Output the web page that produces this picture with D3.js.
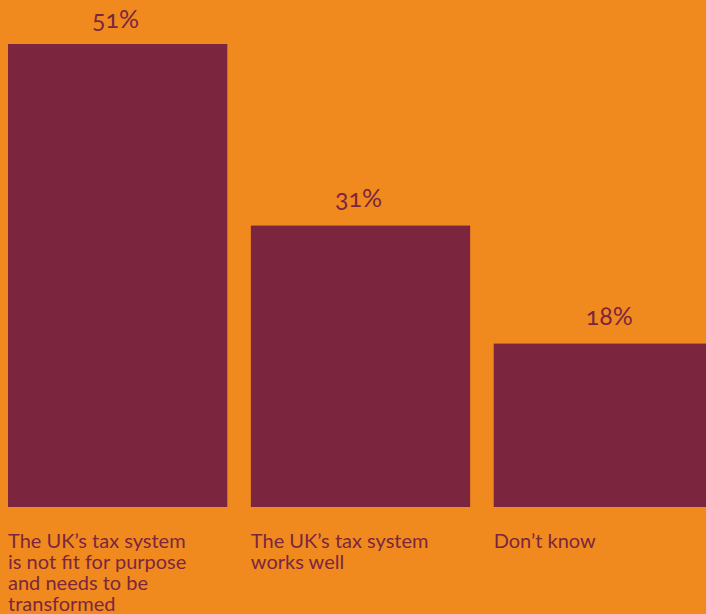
<!DOCTYPE html>
<html>
<head>
<meta charset="utf-8">
<script src="https://cdn.jsdelivr.net/npm/d3@7"></script>
<style>
  html, body { margin: 0; padding: 0; background: #F18A1E; }
  svg { display: block; }
  .value { font-family: Lato, "Open Sans", sans-serif; font-variant-numeric: oldstyle-nums; }
  .cat { font-family: Lato, "Open Sans", sans-serif; }
</style>
</head>
<body>
<script>
// Survey answers and their shares (%)
const categories = [
  "The UK’s tax system is not fit for purpose and needs to be transformed",
  "The UK’s tax system works well",
  "Don’t know"
];
const categoryLines = [
  ["The UK’s tax system", "is not fit for purpose", "and needs to be", "transformed"],
  ["The UK’s tax system", "works well"],
  ["Don’t know"]
];
const shares = [51, 31, 18];

const W = 706, H = 614;
const orange = "#F18A1E", maroon = "#7B263E";

const svg = d3.select("body").append("svg")
  .attr("width", W).attr("height", H);

svg.append("rect").attr("width", W).attr("height", H).attr("fill", orange);

const x = d3.scaleBand()
  .domain(categories)
  .range([8, 713])
  .paddingInner(0.097)
  .paddingOuter(0);

const y = d3.scaleLinear()
  .domain([0, d3.max(shares)])
  .range([507, 44]);

const data = categories.map((c, i) => ({ cat: c, lines: categoryLines[i], v: shares[i] }));

svg.selectAll("rect.bar")
  .data(data)
  .join("rect")
  .attr("class", "bar")
  .attr("x", d => x(d.cat))
  .attr("y", d => y(d.v))
  .attr("width", x.bandwidth())
  .attr("height", d => y(0) - y(d.v))
  .attr("fill", maroon);

svg.selectAll("text.value")
  .data(data)
  .join("text")
  .attr("class", "value")
  .attr("x", d => x(d.cat) + x.bandwidth() / 2 + (d.v < 20 ? 6 : -2))
  .attr("y", d => y(d.v) - (d.v > 50 ? 16 : 19))
  .attr("text-anchor", "middle")
  .attr("font-size", 25)
  .attr("fill", maroon)
  .text(d => d.v + "%");

const cat = svg.selectAll("text.cat")
  .data(data)
  .join("text")
  .attr("class", "cat")
  .attr("x", d => x(d.cat))
  .attr("y", 547.5)
  .attr("font-size", 20)
  .attr("fill", maroon);

cat.selectAll("tspan")
  .data(d => d.lines.map(l => ({ l, x0: x(d.cat) })))
  .join("tspan")
  .attr("x", t => t.x0)
  .attr("dy", (t, i) => i === 0 ? 0 : 21.3)
  .text(t => t.l);
</script>
</body>
</html>
